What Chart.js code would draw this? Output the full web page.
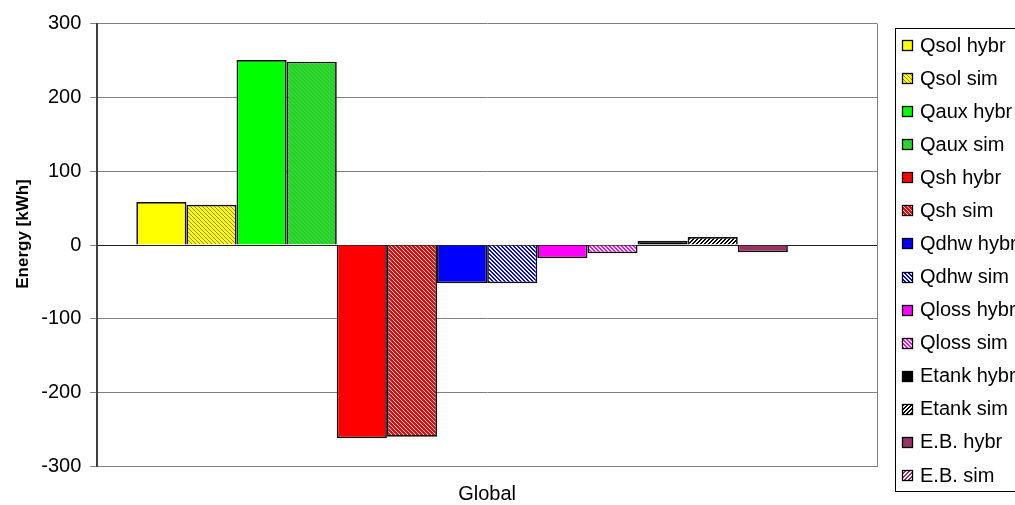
<!DOCTYPE html>
<html>
<head>
<meta charset="utf-8">
<style>
  html, body { margin: 0; padding: 0; background: #ffffff; overflow: hidden; }
  #wrap { width: 1015px; height: 505px; position: relative; }
</style>
<script src="https://cdn.jsdelivr.net/npm/chart.js@4/dist/chart.umd.min.js"></script>
</head>
<body>
<div id="wrap"><canvas id="c" width="1015" height="505"></canvas></div>
<script>
// Energy balance, one category, hybrid measurement vs. simulation
const categories = ['Global'];
const seriesNames = [
  'Qsol hybr', 'Qsol sim', 'Qaux hybr', 'Qaux sim', 'Qsh hybr', 'Qsh sim',
  'Qdhw hybr', 'Qdhw sim', 'Qloss hybr', 'Qloss sim', 'Etank hybr', 'Etank sim',
  'E.B. hybr', 'E.B. sim'
];
const seriesValues = [58.2, 54.6, 250.6, 248.3, -261.8, -259.6, -51.9, -51.9, -18.0, -11.2, 5.8, 10.8, -9.9, 0];
const yTicks = [-300, -200, -100, 0, 100, 200, 300];
const yTitle = 'Energy [kWh]';

const FONT = '"Liberation Sans", Arial, sans-serif';

// small repeating diagonal hatch used for the simulated series
function hatch(bg, fg, dir, thick) {
  const n = 4;
  const cv = document.createElement('canvas');
  cv.width = n; cv.height = n;
  const g = cv.getContext('2d');
  g.fillStyle = bg; g.fillRect(0, 0, n, n);
  g.fillStyle = fg;
  for (let x = 0; x < n; x++) {
    for (let t = 0; t < thick; t++) {
      const y = dir === 'up' ? (n - 1 - x + t) % n : (x + t) % n;
      g.fillRect(x, y, 1, 1);
    }
  }
  return g.createPattern(cv, 'repeat');
}

const fills = [
  '#FFFF00', hatch('#FFFF00', '#8a8a50', 'down', 1),
  '#00FF00', hatch('#00FF00', '#55aa55', 'down', 2),
  '#FF0000', hatch('#FFFFFF', '#FF0000', 'down', 3),
  '#0000FF', hatch('#FFFFFF', '#0000FF', 'down', 2),
  '#FF00FF', hatch('#FFFFFF', '#FF00FF', 'down', 2),
  '#000000', hatch('#FFFFFF', '#000000', 'up', 2),
  '#993366', hatch('#FFFFFF', '#993366', 'up', 2)
];

const datasets = seriesNames.map((name, i) => ({
  label: name,
  data: [seriesValues[i]],
  backgroundColor: fills[i],
  borderColor: '#111111',
  borderWidth: 1.7,
  categoryPercentage: 0.9,
  barPercentage: 1.0
}));

// boxed legend on the right, clipped by the canvas edge
const sideLegend = {
  id: 'sideLegend',
  afterDraw(chart) {
    const ctx = chart.ctx;
    ctx.save();
    ctx.strokeStyle = '#000000';
    ctx.lineWidth = 1;
    ctx.strokeRect(895.5, 28.5, 200, 463);
    ctx.font = '20px ' + FONT;
    ctx.textBaseline = 'middle';
    ctx.textAlign = 'left';
    chart.data.datasets.forEach((ds, i) => {
      const cy = 45 + i * 33.08;
      ctx.fillStyle = ds.backgroundColor;
      ctx.fillRect(902, Math.round(cy) - 5, 11, 11);
      ctx.strokeStyle = '#000000';
      ctx.lineWidth = 1.3;
      ctx.strokeRect(902.5, Math.round(cy) - 4.5, 10, 10);
      ctx.fillStyle = '#000000';
      ctx.fillText(ds.label, 920, cy + 1);
    });
    ctx.restore();
  }
};

// rotated value-axis title
const axisTitle = {
  id: 'axisTitle',
  afterDraw(chart) {
    const ctx = chart.ctx;
    ctx.save();
    ctx.translate(23, 234);
    ctx.rotate(-Math.PI / 2);
    ctx.font = 'bold 17px ' + FONT;
    ctx.fillStyle = '#000000';
    ctx.textAlign = 'center';
    ctx.textBaseline = 'middle';
    ctx.fillText(yTitle, 0, 0);
    ctx.restore();
  }
};

new Chart(document.getElementById('c'), {
  type: 'bar',
  data: { labels: categories, datasets },
  options: {
    responsive: false,
    animation: false,
    devicePixelRatio: 1,
    layout: { padding: { top: 23.5, right: 138, bottom: 0, left: 0 } },
    plugins: { legend: { display: false }, tooltip: { enabled: false } },
    scales: {
      x: {
        grid: { display: true, offset: true, drawTicks: false, color: '#808080', lineWidth: 1 },
        border: { display: true, color: '#808080', width: 1 },
        ticks: { color: '#000000', font: { family: FONT, size: 20 }, padding: 16 },
        afterFit(s) { s.height = 38.5; }
      },
      y: {
        min: -300, max: 300,
        afterBuildTicks(s) { s.ticks = yTicks.map(v => ({ value: v })); },
        grid: {
          color: c => (c.tick && c.tick.value === 0) ? '#222222' : '#808080',
          lineWidth: 1,
          tickLength: 7,
          tickColor: '#808080'
        },
        border: { display: true, color: '#404040', width: 2 },
        ticks: { color: '#000000', font: { family: FONT, size: 20 }, padding: 9 },
        afterFit(s) { s.width = 97.3; }
      }
    }
  },
  plugins: [sideLegend, axisTitle]
});
</script>
</body>
</html>
